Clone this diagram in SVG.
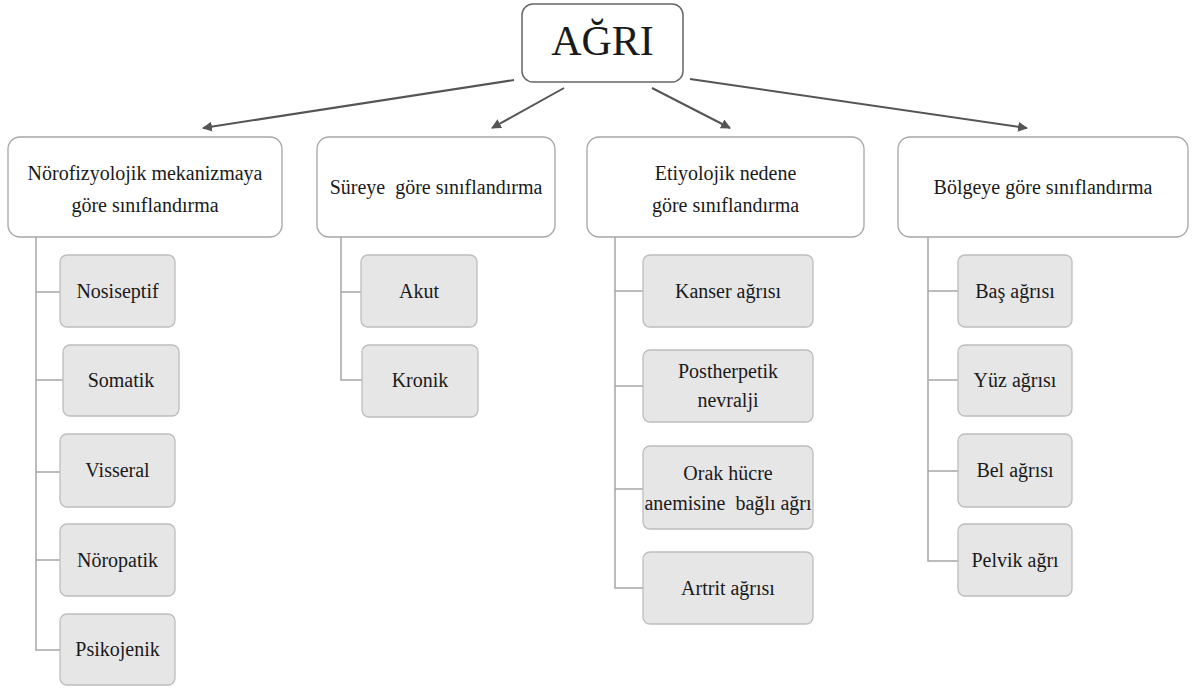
<svg xmlns="http://www.w3.org/2000/svg" width="1197" height="690" viewBox="0 0 1197 690" font-family="'Liberation Serif', 'DejaVu Serif', serif">
<style>
text{font-family:'Liberation Serif','DejaVu Serif',serif;fill:#1a1a1a;text-anchor:middle}
.cat rect{fill:#fff;stroke:#a6a6a6;stroke-width:1.3}
.cat text{font-size:20px}
.leaf rect{fill:#e6e6e6;stroke:#bdbdbd;stroke-width:1.3}
.leaf text{font-size:20px}
.tree{fill:none;stroke:#a6a6a6;stroke-width:1.5}
.arr{fill:none;stroke:#555;stroke-width:2;marker-end:url(#ah)}
</style>
<defs>
<marker id="ah" viewBox="0 0 10 10" refX="9" refY="5" markerWidth="5" markerHeight="5" orient="auto" markerUnits="strokeWidth">
<path d="M0,0 L10,5 L0,10 z" fill="#555"/>
</marker>
</defs>
<rect width="1197" height="690" fill="#fff"/>
<g id="connectors">
<line class="arr" x1="514" y1="80" x2="203" y2="128"/>
<line class="arr" x1="564" y1="88" x2="492" y2="128"/>
<line class="arr" x1="652" y1="88" x2="730" y2="128"/>
<line class="arr" x1="690" y1="79" x2="1027" y2="128"/>
<path class="tree" d="M36,237 V650 H60 M36,292 H60 M36,380 H63 M36,472 H60 M36,560 H60"/>
<path class="tree" d="M341,237 V380 H362 M341,292 H361"/>
<path class="tree" d="M615,237 V588 H643 M615,291 H643 M615,386 H643 M615,489 H643"/>
<path class="tree" d="M928,237 V561 H958 M928,291 H958 M928,380 H958 M928,471 H958"/>
</g>
<g id="root">
<rect x="522" y="4" width="161" height="78" rx="11" fill="#fff" stroke="#666" stroke-width="1.5"/>
<text x="602.5" y="55" font-size="42">AĞRI</text>
</g>
<g id="cat1" class="cat">
<rect x="8" y="137" width="274" height="100" rx="12"/>
<text x="145" y="180">Nörofizyolojik mekanizmaya</text>
<text x="145" y="212">göre sınıflandırma</text>
</g>
<g id="cat2" class="cat">
<rect x="317" y="137" width="238" height="100" rx="12"/>
<text x="436" y="194" xml:space="preserve">Süreye  göre sınıflandırma</text>
</g>
<g id="cat3" class="cat">
<rect x="587" y="137" width="277" height="100" rx="12"/>
<text x="725.5" y="180">Etiyolojik nedene</text>
<text x="725.5" y="212">göre sınıflandırma</text>
</g>
<g id="cat4" class="cat">
<rect x="898" y="137" width="290" height="100" rx="12"/>
<text x="1043" y="194">Bölgeye göre sınıflandırma</text>
</g>
<g id="nosiseptif" class="leaf"><rect x="60" y="255" width="115" height="72" rx="7"/><text x="117.5" y="298">Nosiseptif</text></g>
<g id="somatik" class="leaf"><rect x="63" y="345" width="116" height="71" rx="7"/><text x="121" y="387">Somatik</text></g>
<g id="visseral" class="leaf"><rect x="60" y="434" width="115" height="73" rx="7"/><text x="117.5" y="477">Visseral</text></g>
<g id="noropatik" class="leaf"><rect x="60" y="524" width="115" height="72" rx="7"/><text x="117.5" y="567">Nöropatik</text></g>
<g id="psikojenik" class="leaf"><rect x="60" y="614" width="115" height="71" rx="7"/><text x="117.5" y="656">Psikojenik</text></g>
<g id="akut" class="leaf"><rect x="361" y="255" width="116" height="72" rx="7"/><text x="419" y="298">Akut</text></g>
<g id="kronik" class="leaf"><rect x="362" y="345" width="116" height="72" rx="7"/><text x="420" y="387">Kronik</text></g>
<g id="kanser" class="leaf"><rect x="643" y="255" width="170" height="72" rx="7"/><text x="728" y="298">Kanser ağrısı</text></g>
<g id="postherpetik" class="leaf"><rect x="643" y="350" width="170" height="72" rx="7"/><text x="728" y="378">Postherpetik</text><text x="728" y="407">nevralji</text></g>
<g id="orak" class="leaf"><rect x="643" y="446" width="170" height="83" rx="7"/><text x="728" y="480">Orak hücre</text><text x="728" y="510" xml:space="preserve">anemisine  bağlı ağrı</text></g>
<g id="artrit" class="leaf"><rect x="643" y="552" width="170" height="72" rx="7"/><text x="728" y="595">Artrit ağrısı</text></g>
<g id="bas" class="leaf"><rect x="958" y="255" width="114" height="72" rx="7"/><text x="1015" y="298">Baş ağrısı</text></g>
<g id="yuz" class="leaf"><rect x="958" y="345" width="114" height="71" rx="7"/><text x="1015" y="387">Yüz ağrısı</text></g>
<g id="bel" class="leaf"><rect x="958" y="434" width="114" height="73" rx="7"/><text x="1015" y="477">Bel ağrısı</text></g>
<g id="pelvik" class="leaf"><rect x="958" y="524" width="114" height="72" rx="7"/><text x="1015" y="567">Pelvik ağrı</text></g>
</svg>
